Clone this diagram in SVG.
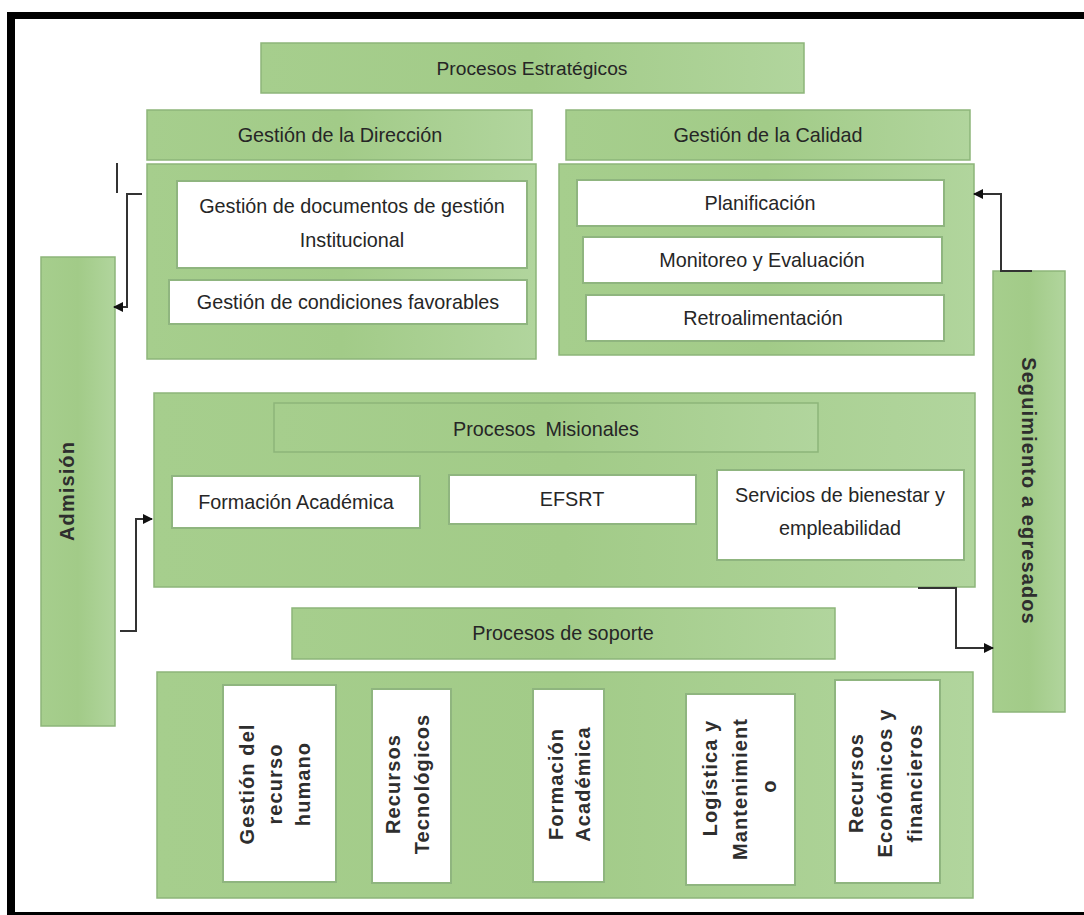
<svg xmlns="http://www.w3.org/2000/svg" width="1084" height="915" viewBox="0 0 1084 915">
<defs>
<linearGradient id="g" x1="0" y1="0" x2="1" y2="0">
<stop offset="0" stop-color="#a6ce8d"/>
<stop offset="0.5" stop-color="#a2cb88"/>
<stop offset="1" stop-color="#b1d59d"/>
</linearGradient>
<marker id="ah" viewBox="0 0 10 10" refX="9" refY="5" markerWidth="10" markerHeight="10" markerUnits="userSpaceOnUse" orient="auto">
<path d="M0,0 L10,5 L0,10 Z" fill="#111"/>
</marker>
</defs>
<style>
.grn{fill:url(#g);stroke:#8db57a;stroke-width:1.5}
.wht{fill:#fff;stroke:#8fb57f;stroke-width:2}
.t{font-family:"Liberation Sans",Arial,sans-serif;font-size:19.8px;fill:#262626;text-anchor:middle}
.r{font-family:"Liberation Sans",Arial,sans-serif;font-size:20px;font-weight:bold;fill:#2e2e2e;text-anchor:middle;letter-spacing:1.1px}
.c{fill:none;stroke:#333;stroke-width:2}
</style>
<rect width="1084" height="915" fill="#fff"/>
<g id="frame" fill="#000">
<rect x="7" y="12" width="8" height="903"/>
<rect x="7" y="12" width="1077" height="7"/>
<rect x="7" y="912" width="1077" height="3"/>
</g>
<g id="procesos-estrategicos">
<rect class="grn" x="261" y="43" width="543" height="50"/>
<text class="t" x="532" y="75" style="font-size:19.2px">Procesos Estratégicos</text>
</g>
<g id="gestion-direccion">
<rect class="grn" x="147" y="110" width="385" height="50"/>
<text class="t" x="340" y="142">Gestión de la Dirección</text>
</g>
<g id="gestion-calidad">
<rect class="grn" x="566" y="110" width="404" height="50"/>
<text class="t" x="768" y="142">Gestión de la Calidad</text>
</g>
<g id="direccion-container">
<rect class="grn" x="147" y="164" width="389" height="195"/>
</g>
<g id="doc-gestion">
<rect class="wht" x="177" y="181" width="350" height="87"/>
<text class="t" x="352" y="213">Gestión de documentos de gestión</text>
<text class="t" x="352" y="247">Institucional</text>
</g>
<g id="condiciones">
<rect class="wht" x="169" y="280" width="358" height="44"/>
<text class="t" x="348" y="309">Gestión de condiciones favorables</text>
</g>
<g id="calidad-container">
<rect class="grn" x="559" y="164" width="415" height="191"/>
</g>
<g id="planificacion">
<rect class="wht" x="577" y="180" width="367" height="46"/>
<text class="t" x="760" y="210">Planificación</text>
</g>
<g id="monitoreo">
<rect class="wht" x="583" y="237" width="359" height="46"/>
<text class="t" x="762" y="267">Monitoreo y Evaluación</text>
</g>
<g id="retro">
<rect class="wht" x="586" y="295" width="358" height="46"/>
<text class="t" x="763" y="325">Retroalimentación</text>
</g>
<g id="admision">
<rect class="grn" x="41" y="257" width="74" height="469"/>
<text class="r" transform="translate(74,491) rotate(-90)">Admisión</text>
</g>
<g id="seguimiento">
<rect class="grn" x="993" y="271" width="72" height="441"/>
<text class="r" transform="translate(1022,491) rotate(90)">Seguimiento a egresados</text>
</g>
<g id="misionales-container">
<rect class="grn" x="154" y="393" width="821" height="194"/>
</g>
<g id="procesos-misionales">
<rect class="grn" x="274" y="403" width="544" height="49"/>
<text class="t" x="546" y="436">Procesos<tspan dx="10">Misionales</tspan></text>
</g>
<g id="formacion-academica">
<rect class="wht" x="172" y="476" width="248" height="52"/>
<text class="t" x="296" y="509">Formación Académica</text>
</g>
<g id="efsrt">
<rect class="wht" x="449" y="475" width="247" height="49"/>
<text class="t" x="572" y="506">EFSRT</text>
</g>
<g id="servicios">
<rect class="wht" x="717" y="470" width="247" height="90"/>
<text class="t" x="840" y="502">Servicios de bienestar y</text>
<text class="t" x="840" y="535">empleabilidad</text>
</g>
<g id="procesos-soporte">
<rect class="grn" x="292" y="608" width="543" height="51"/>
<text class="t" x="563" y="640">Procesos de soporte</text>
</g>
<g id="soporte-container">
<rect class="grn" x="157" y="672" width="816" height="226"/>
</g>
<g id="recurso-humano">
<rect class="wht" x="223" y="685" width="113" height="197"/>
<text class="r" transform="translate(254,784) rotate(-90)">Gestión del</text>
<text class="r" transform="translate(282,784) rotate(-90)">recurso</text>
<text class="r" transform="translate(310,784) rotate(-90)">humano</text>
</g>
<g id="recursos-tecnologicos">
<rect class="wht" x="372" y="689" width="79" height="194"/>
<text class="r" transform="translate(400,784) rotate(-90)">Recursos</text>
<text class="r" transform="translate(429,784) rotate(-90)">Tecnológicos</text>
</g>
<g id="formacion-soporte">
<rect class="wht" x="533" y="689" width="71" height="193"/>
<text class="r" transform="translate(563,784) rotate(-90)">Formación</text>
<text class="r" transform="translate(590,784) rotate(-90)">Académica</text>
</g>
<g id="logistica">
<rect class="wht" x="686" y="694" width="109" height="191"/>
<text class="r" transform="translate(717,778) rotate(-90)">Logística y</text>
<text class="r" transform="translate(747,789) rotate(-90)">Mantenimient</text>
<text class="r" transform="translate(776,786) rotate(-90)">o</text>
</g>
<g id="recursos-economicos">
<rect class="wht" x="835" y="680" width="105" height="203"/>
<text class="r" transform="translate(863,783) rotate(-90)">Recursos</text>
<text class="r" transform="translate(892,783) rotate(-90)">Económicos y</text>
<text class="r" transform="translate(922,783) rotate(-90)">financieros</text>
</g>
<g id="connectors">
<path class="c" d="M117,163 V193"/>
<path class="c" d="M142,194 H127 V307 H114" marker-end="url(#ah)"/>
<path class="c" d="M120,631 H136 V519 H152" marker-end="url(#ah)"/>
<path class="c" d="M918,588 H956 V648 H993" marker-end="url(#ah)"/>
<path class="c" d="M1032,271 H1001 V194 H974" marker-end="url(#ah)"/>
</g>
</svg>
